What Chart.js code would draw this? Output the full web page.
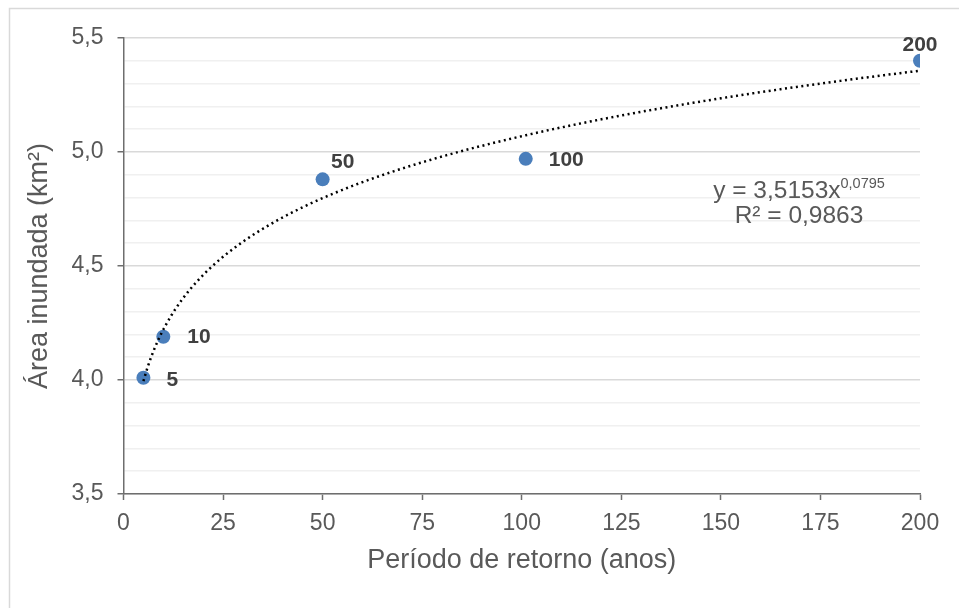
<!DOCTYPE html>
<html>
<head>
<meta charset="utf-8">
<title>Área inundada x Período de retorno</title>
<script src="https://cdn.jsdelivr.net/npm/chart.js@4.4.1/dist/chart.umd.min.js"></script>
<style>
  html,body{margin:0;padding:0;background:#fff;}
  #wrap{width:959px;height:608px;}
</style>
</head>
<body>
<div id="wrap"><canvas id="chart" width="959" height="608"></canvas></div>
<script>
// data
const RETURN_PERIOD = [5, 10, 50, 101, 200];      // x (anos)
const FLOOD_AREA = [4.01, 4.19, 4.88, 4.97, 5.40]; // y (km²)
const POINT_LABELS = ['5', '10', '50', '100', '200'];
const X_TICKS = [0, 25, 50, 75, 100, 125, 150, 175, 200];
const Y_TICKS = [3.5, 4.0, 4.5, 5.0, 5.5];
// power trendline as printed on the chart: y = a * x^b
const TREND_A = 3.5153;
const TREND_B = 0.0795;
const TREND_R2 = '0,9863';

const GREY_TEXT = '#595959';
const AXIS_LINE = '#6e6e6e';

const trendPts = [];
for (let x = RETURN_PERIOD[0]; x <= RETURN_PERIOD[RETURN_PERIOD.length - 1]; x += 1) {
  trendPts.push({x: x, y: TREND_A * Math.pow(x, TREND_B)});
}
const scatterPts = RETURN_PERIOD.map((x, i) => ({x: x, y: FLOOD_AREA[i]}));

const isMajor = v => Y_TICKS.some(t => Math.abs(t - v) < 1e-6);
const fmt = v => v.toFixed(1).replace('.', ',');

// where each label sits relative to its point (dx, dy, align)
const labelPlace = [
  {dx: 23, dy: 2, align: 'left'},
  {dx: 24, dy: 1, align: 'left'},
  {dx: 20, dy: -17, align: 'center'},
  {dx: 23, dy: 1, align: 'left'},
  {dx: 0, dy: -16, align: 'center'}
];

const extras = {
  id: 'extras',
  beforeDraw(chart) {
    const c = chart.ctx;
    c.save();
    c.fillStyle = '#fff';
    c.fillRect(0, 0, chart.width, chart.height);
    c.strokeStyle = '#d9d9d9';
    c.lineWidth = 1.5;
    c.strokeRect(9.5, 8.5, 1200, 1200);
    c.restore();
  },
  afterDatasetsDraw(chart) {
    const c = chart.ctx;
    const meta = chart.getDatasetMeta(1);
    c.save();
    c.font = 'bold 21px "Liberation Sans", Arial, sans-serif';
    c.fillStyle = '#404040';
    c.textBaseline = 'middle';
    meta.data.forEach((el, i) => {
      const p = labelPlace[i];
      c.textAlign = p.align;
      c.fillText(POINT_LABELS[i], el.x + p.dx, el.y + p.dy);
    });

    // trendline equation
    c.fillStyle = GREY_TEXT;
    c.textBaseline = 'alphabetic';
    c.textAlign = 'left';
    const main = 'y = ' + TREND_A.toFixed(4).replace('.', ',') + 'x';
    const sup = TREND_B.toFixed(4).replace('.', ',');
    c.font = '24.5px "Liberation Sans", Arial, sans-serif';
    const wMain = c.measureText(main).width;
    c.font = '14.5px "Liberation Sans", Arial, sans-serif';
    const wSup = c.measureText(sup).width;
    const cx = 799;
    let x0 = cx - (wMain + wSup) / 2;
    c.font = '24.5px "Liberation Sans", Arial, sans-serif';
    c.fillText(main, x0, 198);
    c.font = '14.5px "Liberation Sans", Arial, sans-serif';
    c.fillText(sup, x0 + wMain, 188);
    c.font = '24.5px "Liberation Sans", Arial, sans-serif';
    c.textAlign = 'center';
    c.fillText('R² = ' + TREND_R2, cx, 223);
    c.restore();
  }
};

new Chart(document.getElementById('chart'), {
  type: 'scatter',
  data: {
    datasets: [
      {
        type: 'line',
        label: 'Tendência',
        data: trendPts,
        borderColor: '#000',
        borderWidth: 2.5,
        borderDash: [2, 3.5],
        pointRadius: 0,
        fill: false,
        tension: 0
      },
      {
        label: 'Área inundada',
        data: scatterPts,
        backgroundColor: '#4a7ebb',
        borderWidth: 0,
        pointRadius: 7,
        pointHoverRadius: 7
      }
    ]
  },
  options: {
    responsive: false,
    animation: false,
    devicePixelRatio: 1,
    layout: {padding: {left: 10, right: 39, top: 38, bottom: 0}},
    plugins: {legend: {display: false}, tooltip: {enabled: false}},
    scales: {
      x: {
        type: 'linear',
        min: 0, max: 200,
        afterBuildTicks: s => { s.ticks = X_TICKS.map(v => ({value: v})); },
        afterFit: s => { s.height = 114; },
        ticks: {
          color: GREY_TEXT,
          font: {family: '"Liberation Sans", Arial, sans-serif', size: 23},
          padding: 10,
          maxRotation: 0
        },
        grid: {drawOnChartArea: false, tickLength: 6, tickColor: AXIS_LINE, tickWidth: 1.5},
        border: {color: AXIS_LINE, width: 1.5},
        title: {
          display: true,
          text: 'Período de retorno (anos)',
          color: GREY_TEXT,
          font: {family: '"Liberation Sans", Arial, sans-serif', size: 27},
          padding: {top: 0, bottom: 31}
        }
      },
      y: {
        min: 3.5, max: 5.5,
        afterFit: s => { s.width = 113.5; },
        ticks: {
          stepSize: 0.1,
          autoSkip: false,
          color: GREY_TEXT,
          font: {family: '"Liberation Sans", Arial, sans-serif', size: 23},
          padding: 14,
          callback: v => isMajor(v) ? fmt(v) : ''
        },
        grid: {
          color: ctx => isMajor(ctx.tick.value) ? '#d9d9d9' : '#f0f0f0',
          lineWidth: 1.5,
          tickLength: 6,
          tickWidth: 1.5,
          tickColor: ctx => isMajor(ctx.tick.value) ? AXIS_LINE : 'rgba(0,0,0,0)'
        },
        border: {color: AXIS_LINE, width: 1.5},
        title: {
          display: true,
          text: 'Área inundada (km²)',
          color: GREY_TEXT,
          font: {family: '"Liberation Sans", Arial, sans-serif', size: 27},
          padding: {top: 13, bottom: 0}
        }
      }
    }
  },
  plugins: [extras]
});
</script>
</body>
</html>
